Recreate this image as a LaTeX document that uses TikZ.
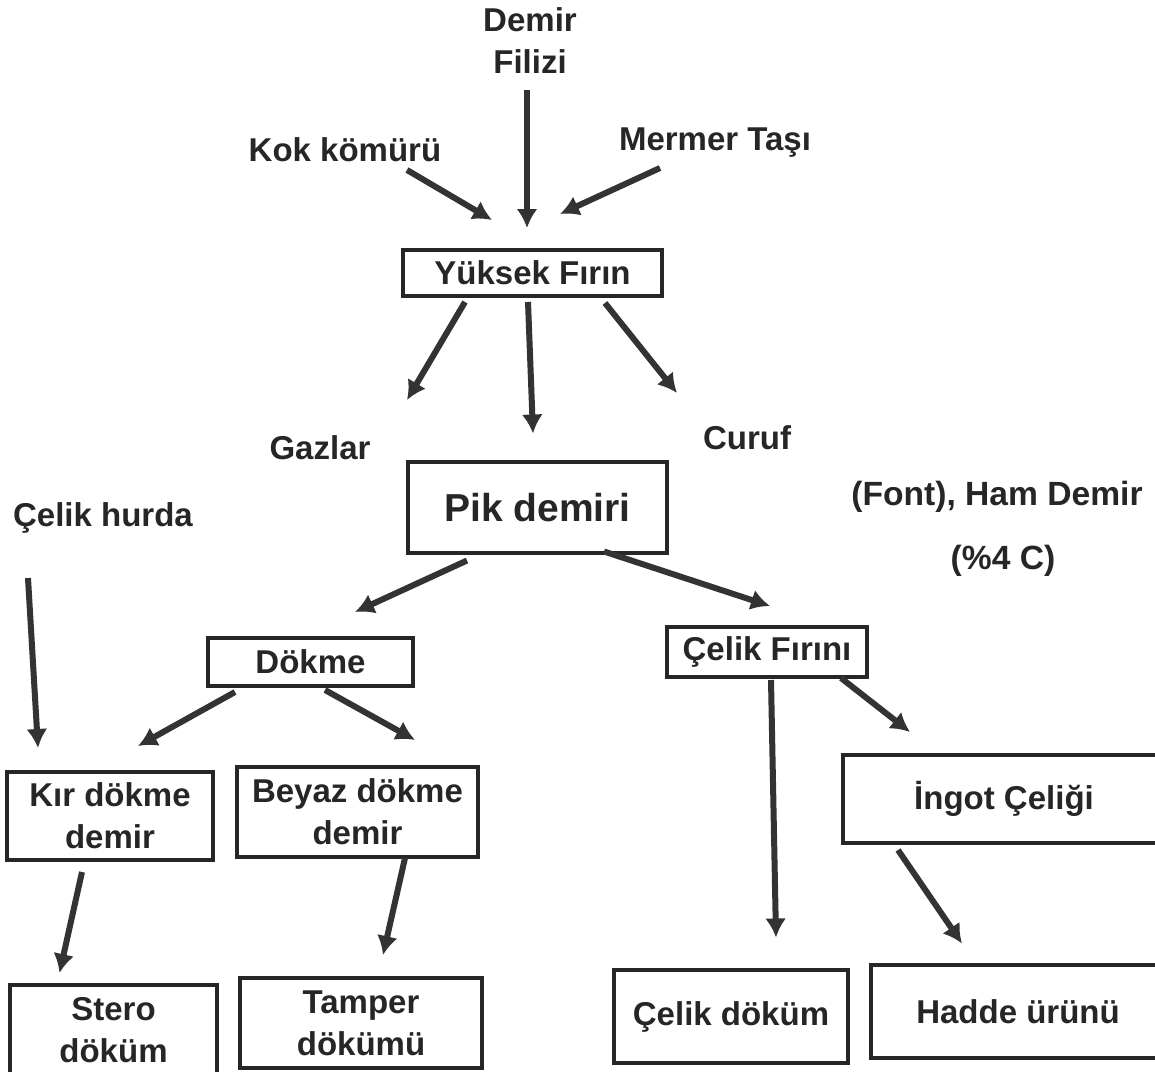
\documentclass[tikz,border=0pt]{standalone}
\usepackage{fontspec}
\setmainfont{Liberation Sans}
\usetikzlibrary{arrows.meta,calc}

\begin{document}
\begin{tikzpicture}[x=0.5pt, y=-0.5pt]
\tikzset{>={Latex[length=9.5pt,width=10.5pt]}}
\tikzset{lbl/.style={font=\bfseries\fontsize{16.5}{21}\selectfont, text=black!85, align=center, inner sep=0pt}}
\tikzset{box/.style={lbl, draw=black!85, line width=1.6pt}}
\tikzset{arr/.style={->, draw=black!80, line width=3pt}}
\pgfmathsetmacro{\picwidth}{1155}
\pgfmathsetmacro{\picheight}{1071}
\useasboundingbox (0,0) rectangle (\picwidth, \picheight);
\fill[white] (0,0) rectangle (\picwidth, \picheight);

\node[lbl] (filizi) at (530, 41) {Demir\\Filizi};
\node[lbl] (kok) at (345, 150) {Kok kömürü};
\node[lbl] (mermer) at (715, 143) {Mermer Taşı};
\node[box, minimum width=129.5pt, minimum height=23pt] (yuksek) at (532.5, 273) {Yüksek Fırın};

\draw[arr] ($(filizi)+(-3,49)$) -- ($(yuksek)+(-5.5,-45)$);
\draw[arr] ($(kok)+(62,20)$) -- ($(yuksek)+(-40.5,-53)$);
\draw[arr] ($(mermer)+(-55,25)$) -- ($(yuksek)+(27.5,-59)$);

\node[lbl] (gazlar) at (320, 448) {Gazlar};
\node[lbl] (curuf) at (747, 438) {Curuf};
\node[box, minimum width=129.5pt, minimum height=45.5pt, font=\bfseries\fontsize{19.5}{23}\selectfont] (pik) at (537.5, 507.5) {Pik demiri};
\node[lbl, font=\bfseries\fontsize{16.8}{21}\selectfont] (font) at (997, 497) {(Font), Ham Demir};
\node[lbl, font=\bfseries\fontsize{16.8}{21}\selectfont] (yuzde) at (1003, 561) {(\%4 C)};

\draw[arr] ($(yuksek)+(-67.5,29)$) -- ($(gazlar)+(87,-48)$);
\draw[arr] ($(yuksek)+(-4.5,29)$) -- ($(pik)+(-4.5,-74)$);
\draw[arr] ($(yuksek)+(72.5,30)$) -- ($(curuf)+(-70,-45)$);

\node[lbl] (hurda) at (103, 518) {Çelik hurda};
\node[box, minimum width=102.5pt, minimum height=24pt] (dokme) at (310.5, 662) {Dökme};
\node[box, minimum width=100pt, minimum height=25pt] (celikfirini) at (767, 652) {Çelik Fırını};

\draw[arr] ($(pik)+(-70.5,53)$) -- ($(dokme)+(44.5,-50)$);
\draw[arr] ($(pik)+(66.5,44)$) -- ($(celikfirini)+(3,-46)$);

\node[box, minimum width=103pt, minimum height=44pt] (kir) at (110, 816) {Kır dökme\\demir};
\node[box, minimum width=120.5pt, minimum height=45pt] (beyaz) at (357.5, 812) {Beyaz dökme\\demir};
\node[box, minimum width=161pt, minimum height=44pt] (ingot) at (1004, 799) {İngot Çeliği};

\draw[arr] ($(hurda)+(-75,60)$) -- ($(kir)+(-72,-68)$);
\draw[arr] ($(dokme)+(-75.5,30)$) -- ($(kir)+(28,-70)$);
\draw[arr] ($(dokme)+(14.5,28)$) -- ($(beyaz)+(57.5,-72)$);
\draw[arr] ($(celikfirini)+(74,26)$) -- ($(ingot)+(-94,-67)$);

\node[box, minimum width=103.5pt, minimum height=45pt] (stero) at (113.5, 1030) {Stero\\döküm};
\node[box, minimum width=121pt, minimum height=45pt] (tamper) at (361, 1023) {Tamper\\dökümü};
\node[box, minimum width=117pt, minimum height=46.5pt] (celikdokum) at (731, 1016.5) {Çelik döküm};
\node[box, minimum width=147pt, minimum height=46.5pt] (hadde) at (1018, 1011.5) {Hadde ürünü};

\draw[arr] ($(kir)+(-28,56)$) -- ($(stero)+(-54,-57)$);
\draw[arr] ($(beyaz)+(47.5,46)$) -- ($(tamper)+(22,-68)$);
\draw[arr] ($(celikfirini)+(4,28)$) -- ($(celikdokum)+(45,-79)$);
\draw[arr] ($(ingot)+(-106,51)$) -- ($(hadde)+(-56,-68)$);
\end{tikzpicture}
\end{document}
